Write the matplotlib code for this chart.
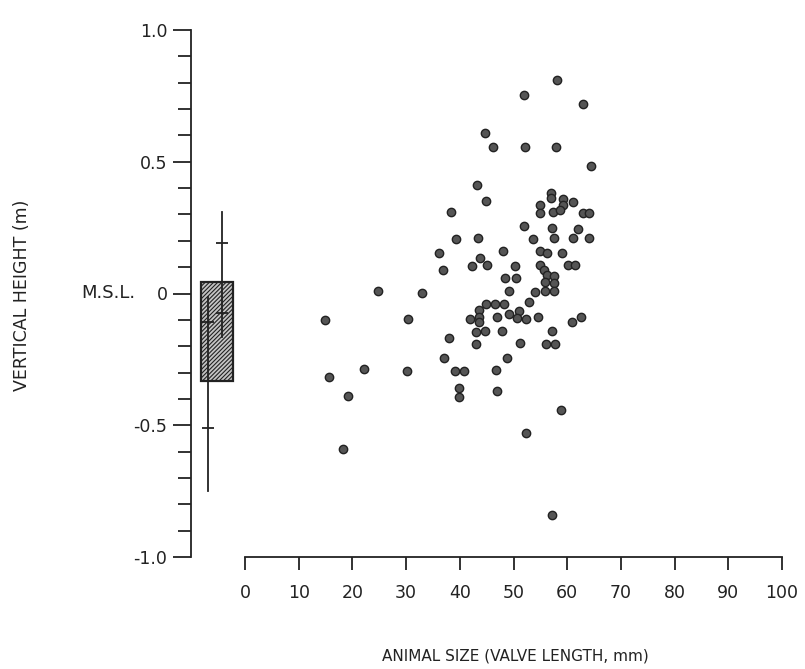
import matplotlib.pyplot as plt
from matplotlib.patches import Rectangle

plt.rcParams['font.family'] = 'DejaVu Sans'
plt.rcParams['hatch.linewidth'] = 0.8

# valve length (mm) vs vertical height relative to M.S.L. (m)
size_mm = [
    58.1, 52.0, 62.9, 44.7, 46.2, 52.1, 57.9, 64.4, 43.2, 44.9, 38.4,
    57.0, 57.0, 59.2, 59.2, 61.1, 54.9, 54.9, 57.4, 58.7, 63.0, 64.1,
    51.9, 57.1, 62.1, 39.2, 43.3, 53.7, 57.5, 61.1, 64.1, 48.0, 36.2,
    54.9, 56.2, 59.0, 43.8, 45.1, 42.2, 50.2, 54.9, 60.2, 61.5, 36.9,
    48.4, 50.4, 55.6, 56.2, 55.9, 55.9, 57.6, 57.6, 57.6, 33.0, 24.8,
    49.2, 54.0,
    52.8, 44.8, 46.6, 48.2, 43.6, 43.6, 43.6, 41.9, 47.0, 49.2, 51.0,
    50.7, 52.3, 54.5, 30.4, 14.9, 62.5, 60.9, 43.0, 44.7, 47.9, 57.1,
    38.0, 43.0, 51.2, 56.0, 57.7, 37.0, 48.7, 22.2, 30.1, 39.1, 40.7,
    46.8, 15.6, 39.9, 39.9, 47.0, 19.1, 58.9, 52.3, 18.3, 57.2,
]
height_m = [
    0.81, 0.755, 0.72, 0.61, 0.555, 0.555, 0.555, 0.485, 0.41, 0.35, 0.31,
    0.383, 0.361, 0.358, 0.336, 0.348, 0.335, 0.304, 0.31, 0.316, 0.306, 0.306,
    0.257, 0.247, 0.243, 0.205, 0.209, 0.208, 0.209, 0.209, 0.209, 0.161, 0.152,
    0.161, 0.152, 0.154, 0.135, 0.110, 0.106, 0.106, 0.110, 0.108, 0.108, 0.090,
    0.057, 0.057, 0.09, 0.07, 0.045, 0.01, 0.065, 0.04, 0.01, 0.003, 0.009,
    0.009, 0.006,
    -0.034, -0.038, -0.038, -0.038, -0.063, -0.089, -0.108, -0.095, -0.089, -0.076, -0.066,
    -0.093, -0.095, -0.089, -0.095, -0.099, -0.089, -0.108, -0.146, -0.143, -0.142, -0.142,
    -0.169, -0.192, -0.189, -0.190, -0.190, -0.244, -0.244, -0.288, -0.295, -0.295, -0.295,
    -0.291, -0.316, -0.357, -0.392, -0.369, -0.388, -0.443, -0.53, -0.59, -0.84,
]

# shore level summary drawn left of the size axis
box_range = [-0.333, 0.044]
left_bar = [-0.75, -0.015]
left_marks = [-0.11, -0.51]
right_bar = [-0.165, 0.31]
right_marks = [0.19, -0.075]

x_ticks = [0, 10, 20, 30, 40, 50, 60, 70, 80, 90, 100]
y_ticks = [-1.0, -0.5, 0.0, 0.5, 1.0]
y_ticklabels = ['-1.0', '-0.5', '0', '0.5', '1.0']

ink = '#222222'
fig = plt.figure(figsize=(8.05, 6.69), dpi=100)
ax = fig.add_axes([191 / 805, 1 - 557 / 669, (782 - 191) / 805, (557 - 30) / 669])
ax.set_xlim(-10.06, 100)
ax.set_ylim(-1, 1)

ax.scatter(size_mm, height_m, s=36, facecolor='#555555', edgecolor=ink,
           linewidth=1.0, zorder=3, clip_on=False)

ax.add_patch(Rectangle((-8.25, box_range[0]), 5.96, box_range[1] - box_range[0],
                       facecolor='#c4c4c4', edgecolor=ink, hatch='////////',
                       linewidth=1.6, zorder=2))
for xpos, rng, marks in [(-6.84, left_bar, left_marks), (-4.34, right_bar, right_marks)]:
    ax.plot([xpos, xpos], rng, color=ink, lw=1.3, zorder=4)
    ax.hlines(marks, xpos - 1.1, xpos + 1.1, color=ink, lw=1.3, zorder=4)

for side in ['top', 'right']:
    ax.spines[side].set_visible(False)
ax.spines['left'].set_bounds(-1, 1)
ax.spines['bottom'].set_bounds(0, 100)
for side in ['left', 'bottom']:
    ax.spines[side].set_linewidth(1.3)
    ax.spines[side].set_color(ink)

ax.set_xticks(x_ticks)
ax.set_xticklabels([str(t) for t in x_ticks])
ax.set_yticks(y_ticks)
ax.set_yticklabels(y_ticklabels)
ax.set_yticks([i / 10 for i in range(-10, 11)], minor=True)
ax.tick_params(axis='x', direction='out', length=9.5, width=1.3, pad=10,
               labelsize=12.5, color=ink, labelcolor=ink)
ax.tick_params(axis='y', which='major', direction='out', length=13, width=1.3,
               pad=4, labelsize=12.5, color=ink, labelcolor=ink)
ax.tick_params(axis='y', which='minor', direction='out', length=9.5, width=1.3,
               color=ink)

ax.text(-25.5, 0, 'M.S.L.', ha='center', va='center', fontsize=13, color=ink)
fig.text(22 / 805, 1 - 295 / 669, 'VERTICAL HEIGHT (m)', rotation=90,
         ha='center', va='center', fontsize=12.5, color=ink)
fig.text(515 / 805, 1 - 656 / 669, 'ANIMAL SIZE (VALVE LENGTH, mm)',
         ha='center', va='center', fontsize=11, color=ink)

fig.savefig('out.png', dpi=100)
